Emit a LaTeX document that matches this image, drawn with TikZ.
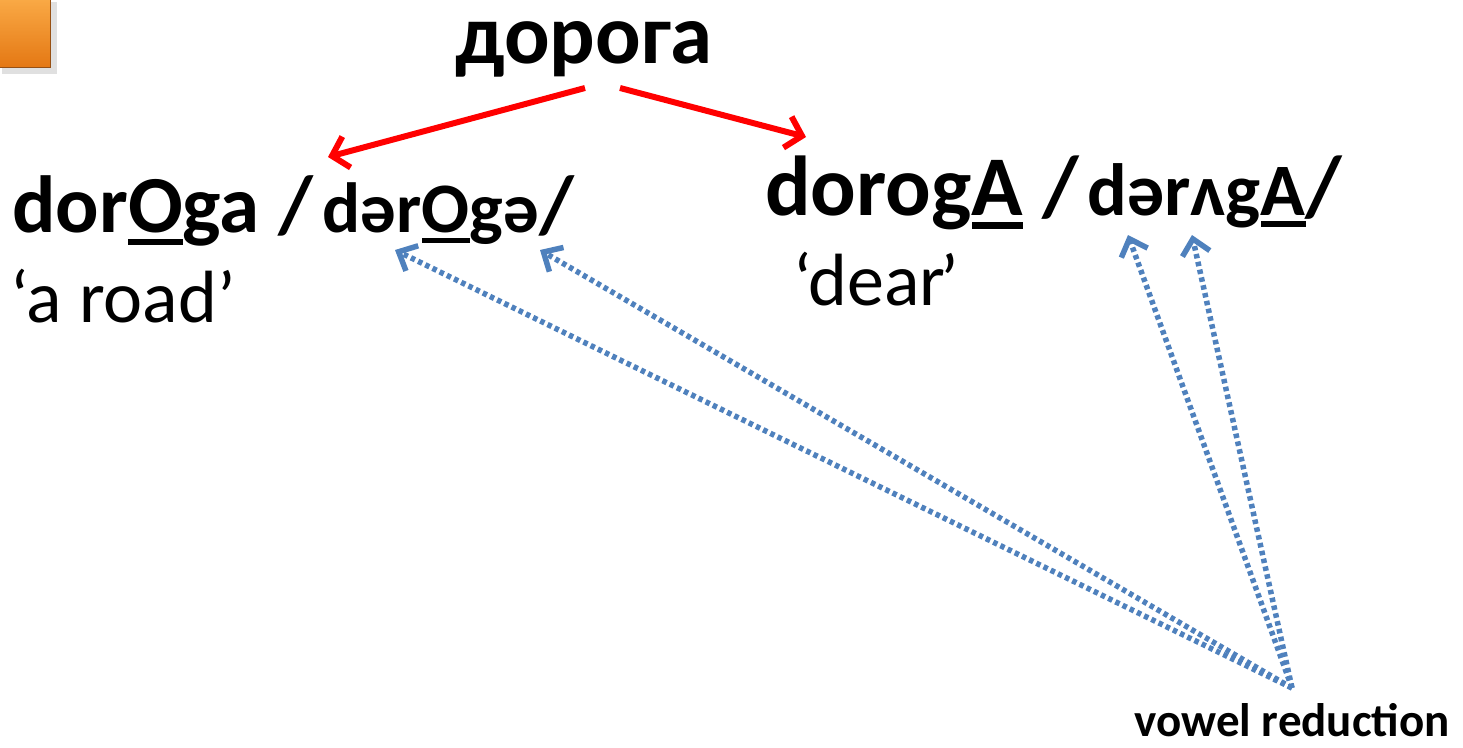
\documentclass[tikz,border=0pt]{standalone}
\usepackage{fontspec}
\setmainfont{Carlito}
\usetikzlibrary{arrows.meta}
\definecolor{redarrow}{RGB}{255,0,0}
\definecolor{bluedot}{RGB}{79,129,189}
\definecolor{orangeT}{RGB}{250,170,70}
\definecolor{orangeB}{RGB}{228,120,20}
\definecolor{orangeEdge}{RGB}{150,80,20}
\newcommand\myul[1]{\setbox0\hbox{#1}\rlap{\rule[-0.16em]{\wd0}{0.075em}}\box0\relax}
\newcommand\bigf{\fontsize{81}{88}\selectfont}
\newcommand\ipaf{\fontsize{71}{76}\selectfont}
\newcommand\bigrt{\fontsize{85}{90}\selectfont}
\newcommand\ipart{\fontsize{74}{80}\selectfont}
\newcommand\glossf{\fontsize{74}{80}\selectfont}
\tikzset{
  word/.style={anchor=base west, inner sep=0pt, font=\bfseries\bigf},
  wordr/.style={anchor=base west, inner sep=0pt, font=\bfseries\bigrt},
  gloss/.style={anchor=base west, inner sep=0pt, font=\glossf},
  redarr/.style={draw=redarrow, line width=6pt, -{Straight Barb[length=15pt,width=32pt,line width=6pt]}},
  bluearr/.style={draw=bluedot, line width=5.5pt, dash pattern=on 4.5pt off 3.5pt,
     -{Straight Barb[length=15pt,width=28pt,line width=5.5pt]}},
}
\begin{document}
\begin{tikzpicture}[x=1pt,y=-1pt]
\useasboundingbox (0,0) rectangle (1463,747);
% orange square with shadow
\fill[black!25] (3,3) rectangle (55,72);
\fill[black!12] (2,2) rectangle (57,74);
\shade[top color=orangeT, bottom color=orangeB, draw=orangeEdge, line width=1pt] (-2,-2) rectangle (50,67);
% texts
\node[anchor=base, inner sep=0pt, font=\bfseries\fontsize{85}{90}\selectfont] (top) at (584,63) {дорога};
\node[word] (left) at (12,232) {dor\myul{O}ga /\kern0.12em{\ipaf dər\myul{O}gə}/};
\node[wordr] (right) at (765,215) {dorog\myul{A} /\kern0.1em{\ipart dərʌg\myul{A}}/};
\node[gloss] (lgloss) at (10,322) {‘a road’};
\node[gloss] (rgloss) at (793,305) {‘dear\kern-0.06em’};
\node[anchor=base east, inner sep=0pt, font=\bfseries\fontsize{47}{52}\selectfont] (vr) at (1450,736) {vowel reduction};
% coordinates
\coordinate (t1) at (585,88);
\coordinate (t2) at (620,88);
\coordinate (l1) at (328,157);
\coordinate (r1) at (806,137);
\coordinate (src) at (1292,688);
\coordinate (b1) at (395,250);
\coordinate (b2) at (540,250);
\coordinate (b3) at (1128,235);
\coordinate (b4) at (1192,235);
\draw[redarr] (t1) -- (l1);
\draw[redarr] (t2) -- (r1);
\draw[bluearr] (src) -- (b1);
\draw[bluearr] (src) -- (b2);
\draw[bluearr] (src) -- (b3);
\draw[bluearr] (src) -- (b4);
\end{tikzpicture}
\end{document}
